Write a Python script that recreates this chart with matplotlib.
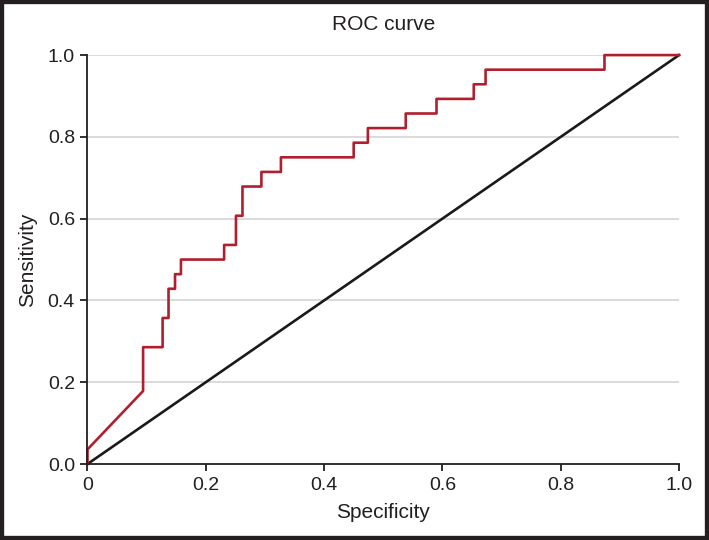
import matplotlib
matplotlib.use("Agg")
import matplotlib.pyplot as plt
import numpy as np
from matplotlib.patches import Rectangle

# ROC points (sensitivity in steps of 1/28)
fpr = [0, 0, 0.094, 0.094, 0.127, 0.127, 0.137, 0.137, 0.148, 0.148,
       0.158, 0.158, 0.231, 0.231, 0.251, 0.251, 0.262, 0.262, 0.294, 0.294,
       0.327, 0.327, 0.450, 0.450, 0.474, 0.474, 0.538, 0.538, 0.590, 0.590,
       0.653, 0.653, 0.673, 0.673, 0.874, 0.874, 1.0]
tp_count = [0, 1, 5, 8, 8, 10, 10, 12, 12, 13,
            13, 14, 14, 15, 15, 17, 17, 19, 19, 20,
            20, 21, 21, 22, 22, 23, 23, 24, 24, 25,
            25, 26, 26, 27, 27, 28, 28]
n_pos = 28
tpr = np.array(tp_count) / n_pos

chance_x = [0, 1]
chance_y = [0, 1]

xticks = [0, 0.2, 0.4, 0.6, 0.8, 1.0]
xtick_labels = ["0", "0.2", "0.4", "0.6", "0.8", "1.0"]
yticks = [0, 0.2, 0.4, 0.6, 0.8, 1.0]
ytick_labels = ["0.0", "0.2", "0.4", "0.6", "0.8", "1.0"]

plt.rcParams['font.family'] = ['Liberation Sans', 'DejaVu Sans']
text_col = '#231f20'

fig = plt.figure(figsize=(7.09, 5.40), dpi=100)
ax = fig.add_axes([0.1234, 0.1407, 0.8343, 0.7573])

for y in yticks[1:]:
    ax.axhline(y, color='#d4d4d4', lw=1.2, zorder=1)

ax.plot(chance_x, chance_y, color='#1a1a1a', lw=1.9, zorder=3, clip_on=False)
ax.plot(fpr, tpr, color='#b01f2e', lw=1.9, zorder=4, clip_on=False)

ax.set_xlim(0, 1)
ax.set_ylim(0, 1)
ax.set_xticks(xticks)
ax.set_xticklabels(xtick_labels)
ax.set_yticks(yticks)
ax.set_yticklabels(ytick_labels)

for s in ['top', 'right']:
    ax.spines[s].set_visible(False)
for s in ['left', 'bottom']:
    ax.spines[s].set_color(text_col)
    ax.spines[s].set_linewidth(1.3)
    ax.spines[s].set_zorder(5)

ax.tick_params(axis='both', direction='out', length=5, width=1.3,
               color=text_col, labelcolor=text_col, labelsize=14)
ax.tick_params(axis='x', pad=4)
ax.tick_params(axis='y', pad=4)

ax.set_title('ROC curve', fontsize=15, color=text_col, pad=18)
ax.set_xlabel('Specificity', fontsize=15, color=text_col, labelpad=7)
ax.set_ylabel('Sensitivity', fontsize=15, color=text_col, labelpad=8)

# dark frame around the whole figure
fig.patches.append(Rectangle((0, 0), 1, 1, transform=fig.transFigure,
                             fill=False, edgecolor=text_col, lw=6, zorder=10))

fig.savefig('out.png', dpi=100)
